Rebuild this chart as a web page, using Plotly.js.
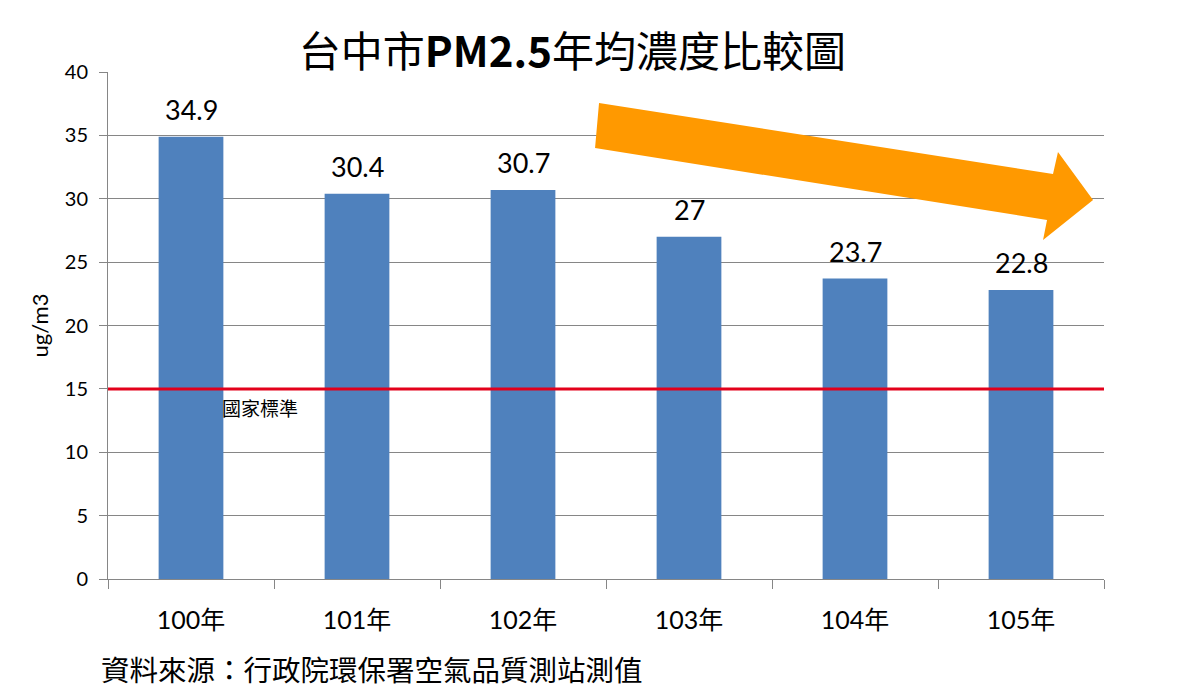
<!DOCTYPE html>
<html>
<head>
<meta charset="utf-8">
<script src="https://cdn.plot.ly/plotly-3.0.1.min.js"></script>
<style>
  html, body { margin: 0; padding: 0; background: #fff; }
  #chart { width: 1200px; height: 695px; }
</style>
</head>
<body>
<div id="chart"></div>
<script>
const years = ["100年", "101年", "102年", "103年", "104年", "105年"];
const pm25 = [34.9, 30.4, 30.7, 27, 23.7, 22.8];
const standardValue = 15;
const yTicks = [0, 5, 10, 15, 20, 25, 30, 35, 40];

const SANS = "Lato, 'Noto Sans CJK TC', sans-serif";
const CJK = "'Noto Sans CJK TC', sans-serif";

// plot area in pixels, used to place the decorative arrow
const M = { l: 108, r: 96, t: 72, b: 116 };
const W = 1200, H = 695;
const pw = W - M.l - M.r, ph = H - M.t - M.b;
const px = x => (x - M.l) / pw;
const py = y => (H - M.b - y) / ph;

const arrowPts = [
  [599, 103], [1053, 174], [1058, 152], [1093, 200],
  [1043, 240], [1047, 220], [595, 148],
];
const arrowPath = arrowPts
  .map((p, i) => (i ? "L" : "M") + px(p[0]).toFixed(4) + "," + py(p[1]).toFixed(4))
  .join(" ") + " Z";

const barTrace = {
  type: "bar",
  x: years,
  y: pm25,
  width: 0.39,
  marker: { color: "#4f81bd" },
  hoverinfo: "x+y",
};

// value labels above the bars
const valueLabels = years.map((yr, i) => ({
  text: String(pm25[i]),
  x: yr,
  y: pm25[i],
  xref: "x",
  yref: "y",
  xanchor: "center",
  yanchor: "bottom",
  yshift: 9,
  showarrow: false,
  font: { family: SANS, size: 27, color: "#000" },
}));

const layout = {
  width: W,
  height: H,
  margin: M,
  paper_bgcolor: "#fff",
  plot_bgcolor: "#fff",
  showlegend: false,
  title: {
    text: "台中市<b>PM2.5</b>年均濃度比較圖",
    font: { family: CJK, size: 42, color: "#000" },
    x: 0.477,
    xanchor: "center",
    y: 0.925,
    yanchor: "middle",
  },
  xaxis: {
    type: "category",
    tickson: "boundaries",
    ticks: "outside",
    ticklen: 9,
    tickcolor: "#868686",
    showline: true,
    linecolor: "#868686",
    linewidth: 1,
    showgrid: false,
    ticklabelstandoff: 19,
    tickfont: { family: SANS, size: 25, color: "#000" },
  },
  yaxis: {
    range: [0, 40],
    tickvals: yTicks,
    ticks: "outside",
    ticklen: 8,
    tickcolor: "#868686",
    showline: true,
    linecolor: "#868686",
    showgrid: true,
    gridcolor: "#868686",
    gridwidth: 1,
    zeroline: false,
    ticklabelstandoff: 7,
    tickfont: { family: SANS, size: 20, color: "#000" },
    title: {
      text: "ug/m3",
      font: { family: SANS, size: 22, color: "#000" },
      standoff: 10,
    },
  },
  shapes: [
    {
      type: "line",
      xref: "paper",
      yref: "y",
      x0: 0,
      x1: 1,
      y0: standardValue,
      y1: standardValue,
      line: { color: "#e3001b", width: 3 },
    },
    {
      type: "path",
      xref: "paper",
      yref: "paper",
      path: arrowPath,
      fillcolor: "#ff9900",
      line: { width: 0 },
      layer: "above",
    },
  ],
  annotations: valueLabels.concat([
    {
      text: "國家標準",
      xref: "paper",
      yref: "y",
      x: px(220),
      y: standardValue,
      xanchor: "left",
      yanchor: "top",
      yshift: -3,
      showarrow: false,
      font: { family: CJK, size: 19, color: "#000" },
    },
    {
      text: "資料來源：行政院環保署空氣品質測站測值",
      xref: "paper",
      yref: "paper",
      x: px(99),
      y: py(668),
      xanchor: "left",
      yanchor: "middle",
      showarrow: false,
      font: { family: CJK, size: 28.5, color: "#000" },
    },
  ]),
};

Plotly.newPlot("chart", [barTrace], layout, { displayModeBar: false, staticPlot: true });
</script>
</body>
</html>
